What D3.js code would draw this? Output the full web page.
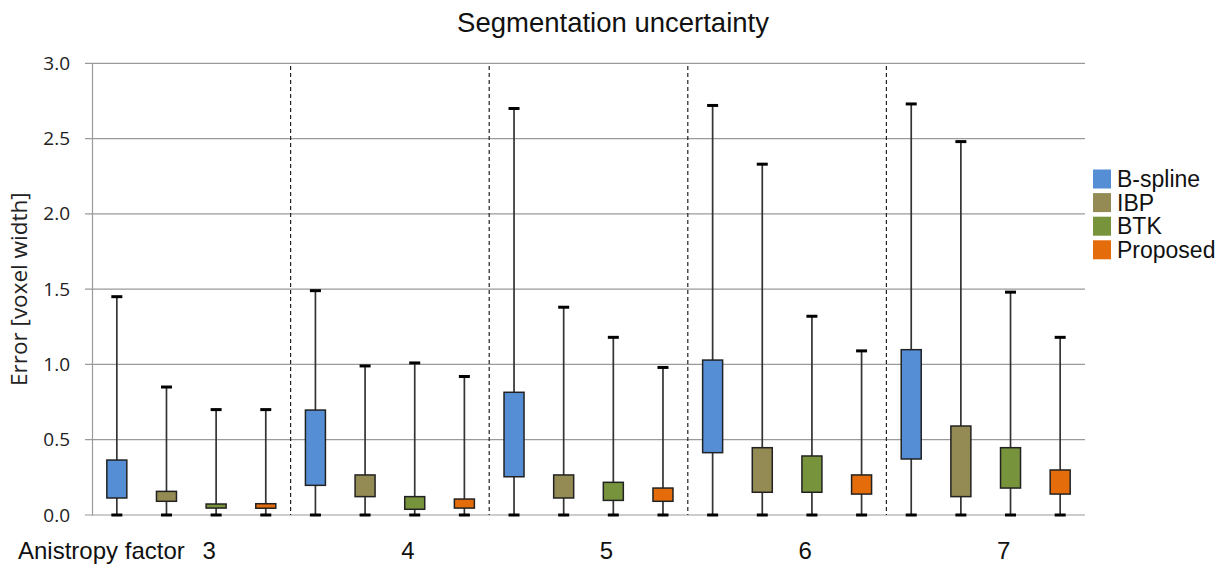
<!DOCTYPE html>
<html>
<head>
<meta charset="utf-8">
<script src="https://cdn.jsdelivr.net/npm/d3@7"></script>
<style>
  html, body { margin: 0; padding: 0; background: #fff; }
  svg { display: block; }
</style>
</head>
<body>
<svg id="chart" width="1225" height="567"></svg>
<script>
// Anisotropy factors (groups along the x axis)
const factors = ["3", "4", "5", "6", "7"];
// Reconstruction methods (boxes within each group)
const methods = ["B-spline", "IBP", "BTK", "Proposed"];
const methodColors = ["#558ED5", "#948A54", "#77933C", "#E46C0A"];

// Whisker ends and quartiles per method, one value per anisotropy factor
const bsplineMin = [0, 0, 0, 0, 0];
const bsplineQ1  = [0.113, 0.197, 0.254, 0.414, 0.372];
const bsplineQ3  = [0.365, 0.697, 0.815, 1.029, 1.098];
const bsplineMax = [1.45, 1.49, 2.70, 2.72, 2.73];

const ibpMin = [0, 0, 0, 0, 0];
const ibpQ1  = [0.091, 0.122, 0.113, 0.151, 0.122];
const ibpQ3  = [0.157, 0.266, 0.266, 0.447, 0.591];
const ibpMax = [0.85, 0.99, 1.38, 2.33, 2.48];

const btkMin = [0, 0, 0, 0, 0];
const btkQ1  = [0.046, 0.038, 0.097, 0.151, 0.179];
const btkQ3  = [0.073, 0.122, 0.217, 0.392, 0.447];
const btkMax = [0.70, 1.01, 1.18, 1.32, 1.48];

const proposedMin = [0, 0, 0, 0, 0];
const proposedQ1  = [0.045, 0.046, 0.091, 0.139, 0.139];
const proposedQ3  = [0.075, 0.106, 0.179, 0.266, 0.299];
const proposedMax = [0.70, 0.92, 0.98, 1.09, 1.18];

const yTicks = [0, 0.5, 1.0, 1.5, 2.0, 2.5, 3.0];

const seriesStats = [
  { min: bsplineMin, q1: bsplineQ1, q3: bsplineQ3, max: bsplineMax },
  { min: ibpMin, q1: ibpQ1, q3: ibpQ3, max: ibpMax },
  { min: btkMin, q1: btkQ1, q3: btkQ3, max: btkMax },
  { min: proposedMin, q1: proposedQ1, q3: proposedQ3, max: proposedMax }
];

// Flatten into one record per box, ordered factor-major
const boxes = [];
factors.forEach((f, fi) => {
  methods.forEach((m, mi) => {
    const s = seriesStats[mi];
    boxes.push({
      key: f + "|" + m, factor: f, method: m, mi,
      min: s.min[fi], q1: s.q1[fi], q3: s.q3[fi], max: s.max[fi]
    });
  });
});

const svg = d3.select("#chart");
const plotLeft = 92, plotRight = 1085, plotTop = 63.3, plotBottom = 515;

const x = d3.scaleBand()
  .domain(boxes.map(d => d.key))
  .range([plotLeft, plotRight])
  .padding(0);

const groupX = d3.scaleBand()
  .domain(factors)
  .range([plotLeft, plotRight])
  .padding(0);

const y = d3.scaleLinear().domain([0, 3]).range([plotBottom, plotTop]);

const sansA = "'Liberation Sans', Arial, sans-serif";
const sansB = "'Open Sans', 'Noto Sans', sans-serif";

// Horizontal gridlines with short outer ticks
svg.append("g")
  .selectAll("line")
  .data(yTicks)
  .join("line")
  .attr("x1", plotLeft - 7)
  .attr("x2", plotRight)
  .attr("y1", d => y(d))
  .attr("y2", d => y(d))
  .attr("stroke", "#9a9a9a")
  .attr("stroke-width", 1.2);

// Y axis with labels
const yAxis = d3.axisLeft(y)
  .tickValues(yTicks)
  .tickFormat(d3.format(".1f"))
  .tickSize(0)
  .tickPadding(22);

const yAxisG = svg.append("g")
  .attr("transform", `translate(${plotLeft},0)`)
  .call(yAxis);
yAxisG.select(".domain").attr("stroke", "#9a9a9a").attr("stroke-width", 1.2);
yAxisG.selectAll("text")
  .attr("font-family", sansB)
  .attr("font-size", 19)
  .attr("fill", "#222");

// Dashed separators between anisotropy groups
svg.append("g")
  .selectAll("line")
  .data(factors.slice(1))
  .join("line")
  .attr("x1", d => groupX(d))
  .attr("x2", d => groupX(d))
  .attr("y1", 66)
  .attr("y2", plotBottom)
  .attr("stroke", "#222")
  .attr("stroke-width", 1.2)
  .attr("stroke-dasharray", "4,3");

// Box plots
const boxW = 20, capW = 11;
const bx = svg.append("g")
  .selectAll("g")
  .data(boxes)
  .join("g")
  .attr("transform", d => `translate(${x(d.key) + x.bandwidth() / 2},0)`);

bx.append("line")
  .attr("x1", 0).attr("x2", 0)
  .attr("y1", d => y(d.min))
  .attr("y2", d => y(d.max))
  .attr("stroke", "#333")
  .attr("stroke-width", 1.7);

bx.append("line")
  .attr("x1", -capW / 2).attr("x2", capW / 2)
  .attr("y1", d => y(d.max)).attr("y2", d => y(d.max))
  .attr("stroke", "#000")
  .attr("stroke-width", 3);

bx.append("line")
  .attr("x1", -capW / 2).attr("x2", capW / 2)
  .attr("y1", d => y(d.min)).attr("y2", d => y(d.min))
  .attr("stroke", "#000")
  .attr("stroke-width", 3);

bx.append("rect")
  .attr("x", -boxW / 2)
  .attr("width", boxW)
  .attr("y", d => y(d.q3))
  .attr("height", d => y(d.q1) - y(d.q3))
  .attr("fill", d => methodColors[d.mi])
  .attr("stroke", "#222")
  .attr("stroke-width", 1.5);

// Title
svg.append("text")
  .attr("x", 613)
  .attr("y", 32)
  .attr("text-anchor", "middle")
  .attr("font-family", sansA)
  .attr("font-size", 27.5)
  .attr("fill", "#111")
  .text("Segmentation uncertainty");

// Y axis title
svg.append("text")
  .attr("transform", `translate(27,${(plotTop + plotBottom) / 2}) rotate(-90)`)
  .attr("text-anchor", "middle")
  .attr("font-family", sansB)
  .attr("font-size", 22.5)
  .attr("fill", "#222")
  .text("Error [voxel width]");

// Category row beneath the plot
svg.append("text")
  .attr("x", 18)
  .attr("y", 559)
  .attr("font-family", sansA)
  .attr("font-size", 24)
  .attr("fill", "#111")
  .text("Anistropy factor");

svg.append("g")
  .selectAll("text")
  .data(factors)
  .join("text")
  .attr("x", d => groupX(d) + groupX.bandwidth() / 2 + 18)
  .attr("y", 559)
  .attr("text-anchor", "middle")
  .attr("font-family", sansA)
  .attr("font-size", 24)
  .attr("fill", "#111")
  .text(d => d);

// Legend
const legend = svg.append("g")
  .selectAll("g")
  .data(methods)
  .join("g")
  .attr("transform", (d, i) => `translate(1093,${179 + i * 23.6})`);

legend.append("rect")
  .attr("x", 0).attr("y", -9.5)
  .attr("width", 18).attr("height", 19)
  .attr("fill", (d, i) => methodColors[i]);

legend.append("text")
  .attr("x", 24)
  .attr("y", 0)
  .attr("dy", "0.35em")
  .attr("font-family", sansA)
  .attr("font-size", 23)
  .attr("fill", "#111")
  .text(d => d);
</script>
</body>
</html>
